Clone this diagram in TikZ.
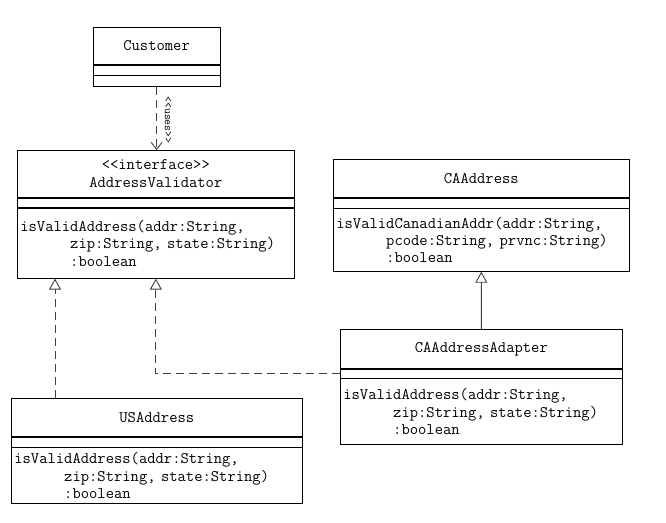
\documentclass[tikz,border=0pt]{standalone}
\usepackage{fontspec}
\usetikzlibrary{arrows.meta}
\newcommand{\opindent}{\phantom{xxxxxx}}
\begin{document}
\begin{tikzpicture}[x=1bp,y=-1bp,
  classbox/.style={draw=black,line width=0.7bp,inner sep=0pt,anchor=north west,
    font=\ttfamily\fontsize{16.2}{18}\selectfont},
  namepart/.style={classbox,align=center},
  opspart/.style={classbox,align=left,inner xsep=3bp},
  link/.style={draw=black!75,line width=0.9bp},
  realize/.style={link,dash pattern=on 8bp off 5bp,-{Triangle[open,length=11bp,width=12bp]}},
  extend/.style={link,-{Triangle[open,length=11bp,width=12bp]}},
  uses/.style={link,dash pattern=on 8bp off 5bp,-{Straight Barb[length=7bp,width=11bp]}}]
  \useasboundingbox (0,0) rectangle (666,523);
  % Customer
  \node [namepart,minimum width=127,minimum height=37] (cust) at (93,27) {Customer};
  \node [classbox,minimum width=127,minimum height=10] (cust-a) at (cust.south west) {};
  \node [classbox,minimum width=127,minimum height=11] (cust-o) at (cust-a.south west) {};
  % AddressValidator
  \node [namepart,minimum width=278,minimum height=47] (av) at (17,150) {<<interface>>\\AddressValidator};
  \node [classbox,minimum width=278,minimum height=10] (av-a) at (av.south west) {};
  \node [opspart,minimum width=278,minimum height=70,text width=272] (av-o) at (av-a.south west)
    {isValidAddress(addr:String,\\\opindent zip:String, state:String)\\\opindent :boolean};
  % CAAddress
  \node [namepart,minimum width=297,minimum height=38] (ca) at (333,159) {CAAddress};
  \node [classbox,minimum width=297,minimum height=10] (ca-a) at (ca.south west) {};
  \node [opspart,minimum width=297,minimum height=63,text width=291,font=\ttfamily\fontsize{16.2}{17}\selectfont] (ca-o) at (ca-a.south west)
    {isValidCanadianAddr(addr:String,\\\opindent pcode:String, prvnc:String)\\\opindent :boolean};
  % CAAddressAdapter
  \node [namepart,minimum width=283,minimum height=39] (ada) at (340,329) {CAAddressAdapter};
  \node [classbox,minimum width=283,minimum height=9] (ada-a) at (ada.south west) {};
  \node [opspart,minimum width=283,minimum height=66,text width=277] (ada-o) at (ada-a.south west)
    {isValidAddress(addr:String,\\\opindent zip:String, state:String)\\\opindent :boolean};
  % USAddress
  \node [namepart,minimum width=292,minimum height=38] (us) at (11,398) {USAddress};
  \node [classbox,minimum width=292,minimum height=10] (us-a) at (us.south west) {};
  \node [opspart,minimum width=292,minimum height=56,text width=286,font=\ttfamily\fontsize{16.2}{17.5}\selectfont] (us-o) at (us-a.south west)
    {isValidAddress(addr:String,\\\opindent zip:String, state:String)\\\opindent :boolean};
  % connectors
  \draw [uses] (cust-o.south) -- (cust-o.south |- av.north);
  \node [rotate=-90,font=\ttfamily\fontsize{11.5}{12}\selectfont,inner sep=0pt] (useslbl) at (168,120) {<<uses>>};
  \coordinate (us-top) at (55,398);
  \draw [realize] (us-top) -- (us-top |- av-o.south);
  \draw [realize] (ada-a.west) -| (av-o.south);
  \draw [extend] (ada.north) -- (ca-o.south);
\end{tikzpicture}
\end{document}
